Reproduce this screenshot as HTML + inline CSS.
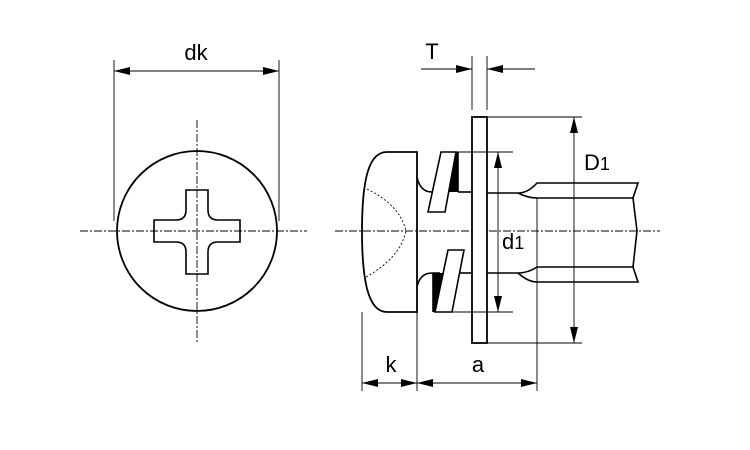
<!DOCTYPE html>
<html><head><meta charset="utf-8"><style>
html,body{margin:0;padding:0;background:#fff;}
svg{display:block;}
text{font-family:"Liberation Sans",Arial,sans-serif;fill:#000;}
</style></head><body>
<svg width="750" height="450" viewBox="0 0 750 450" xmlns="http://www.w3.org/2000/svg">
<defs>
<marker id="ar" viewBox="0 0 16 8" refX="16" refY="4" markerWidth="16" markerHeight="8" orient="auto-start-reverse" markerUnits="userSpaceOnUse"><path d="M0,0 L16,4 L0,8 Z" fill="#000"/></marker>
</defs>
<g fill="none" stroke="#000">
<line x1="80" y1="231" x2="307" y2="231" stroke-width="0.9" stroke-dasharray="8,2,2,2"/>
<line x1="197" y1="120" x2="197" y2="343" stroke-width="0.9" stroke-dasharray="8,2,2,2"/>
<circle cx="197" cy="231" r="80" stroke-width="1.8"/>
<path d="M186,190 H208 V210 Q208,220 218,220 H240 V242 H218 Q208,242 208,252 V274 H186 V252 Q186,242 176,242 H154 V220 H176 Q186,220 186,210 Z" stroke-width="1.6"/>
<line x1="114" y1="60" x2="114" y2="221" stroke-width="0.9"/>
<line x1="279" y1="60" x2="279" y2="221" stroke-width="0.9"/>
<line x1="114" y1="71" x2="279" y2="71" stroke-width="0.9" marker-start="url(#ar)" marker-end="url(#ar)"/>

<line x1="335" y1="231" x2="660" y2="231" stroke-width="0.9" stroke-dasharray="8,2,2,2"/>
<path d="M417,152 H387 C370,152 362,175 362,231 C362,287 370,312 387,312 H417 Z" stroke-width="1.8"/>
<path d="M367,189 Q400,205 406,231 Q400,258 366,277" stroke-width="0.9" stroke-dasharray="2,2"/>
<path d="M417,177 Q420,192 432,192 H446" stroke-width="1.6"/>
<path d="M417,287 Q420,273 432,273 H440" stroke-width="1.6"/>
<line x1="458" y1="192" x2="472" y2="192" stroke-width="1.6"/>
<line x1="460" y1="273" x2="472" y2="273" stroke-width="1.6"/>
<polygon points="441,152 456,152 445,212 428,212" stroke-width="1.6" fill="#fff"/>
<polygon points="456,152 458,152 458,192 449,192" fill="#000" stroke="none"/>
<line x1="458" y1="152" x2="458" y2="192" stroke-width="1.6"/>
<polygon points="448,250 464,250 452,312 435,312" stroke-width="1.6" fill="#fff"/>
<polygon points="433,273 444,273 435,312 433,312" fill="#000" stroke="none"/>
<line x1="433" y1="273" x2="433" y2="312" stroke-width="1.6"/>
<rect x="472" y="117" width="15" height="226" stroke-width="1.8" fill="#fff"/>
<path d="M487,193 H518 Q528,193 537,183 H638 L633,198 H537 Q528,198 518,193" stroke-width="1.6"/>
<path d="M487,273 H518 Q528,273 537,267 H633 L638,282 H537 Q528,282 518,273" stroke-width="1.6"/>
<path d="M633,198 L637,231 L633,267" stroke-width="1.6"/>
<line x1="456" y1="152" x2="513" y2="152" stroke-width="0.9"/>
<line x1="452" y1="312" x2="513" y2="312" stroke-width="0.9"/>
<line x1="498" y1="152" x2="498" y2="312" stroke-width="0.9" marker-start="url(#ar)" marker-end="url(#ar)"/>
<line x1="487" y1="117" x2="582" y2="117" stroke-width="0.9"/>
<line x1="487" y1="343" x2="582" y2="343" stroke-width="0.9"/>
<line x1="574" y1="117" x2="574" y2="343" stroke-width="0.9" marker-start="url(#ar)" marker-end="url(#ar)"/>
<line x1="472" y1="56" x2="472" y2="110" stroke-width="0.9"/>
<line x1="487" y1="56" x2="487" y2="110" stroke-width="0.9"/>
<line x1="421" y1="69" x2="472" y2="69" stroke-width="0.9" marker-end="url(#ar)"/>
<line x1="535" y1="69" x2="487" y2="69" stroke-width="0.9" marker-end="url(#ar)"/>
<line x1="362" y1="312" x2="362" y2="391" stroke-width="0.9"/>
<line x1="417" y1="312" x2="417" y2="391" stroke-width="0.9"/>
<line x1="537" y1="198" x2="537" y2="391" stroke-width="0.9"/>
<line x1="362" y1="383" x2="417" y2="383" stroke-width="0.9" marker-start="url(#ar)" marker-end="url(#ar)"/>
<line x1="417" y1="383" x2="537" y2="383" stroke-width="0.9" marker-start="url(#ar)" marker-end="url(#ar)"/>
</g>
<text x="196" y="60" font-size="22" text-anchor="middle">dk</text>
<text x="432" y="59" font-size="22" text-anchor="middle">T</text>
<text x="584" y="170" font-size="22">D<tspan font-size="18">1</tspan></text>
<text x="502" y="249" font-size="22">d<tspan font-size="18">1</tspan></text>
<text x="391" y="372" font-size="22" text-anchor="middle">k</text>
<text x="478" y="372" font-size="22" text-anchor="middle">a</text>
</svg>
</body></html>
